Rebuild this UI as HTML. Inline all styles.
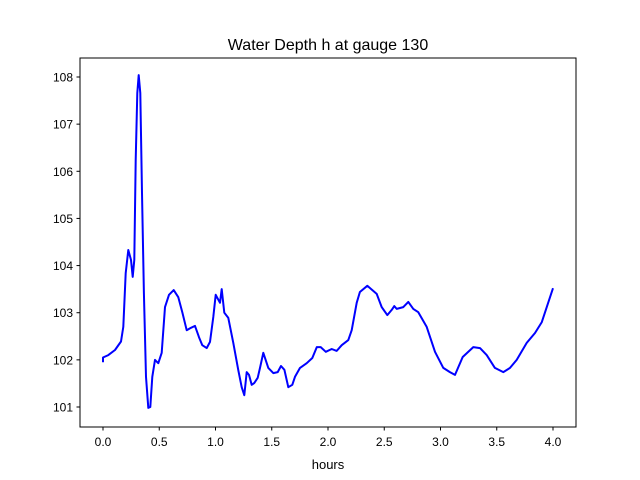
<!DOCTYPE html>
<html><head><meta charset="utf-8"><style>body{margin:0;background:#fff}svg{display:block;font-family:"Liberation Sans","DejaVu Sans",sans-serif}</style></head>
<body>
<svg id="chart" width="640" height="480">
<rect width="640" height="480" fill="#fff"/>
<text x="328" y="50" text-anchor="middle" font-size="16">Water Depth h at gauge 130</text>
<g id="xt"></g>
<g id="yt"></g>
<path id="line" fill="none" stroke="#0000ff" stroke-width="2" stroke-linejoin="round"/>
<rect x="80" y="58" width="496" height="369" fill="none" stroke="#000" stroke-width="1"/>
<text x="328" y="469" text-anchor="middle" font-size="13">hours</text>
</svg>
<script>
const hours=[0,0,0.047,0.107,0.16,0.18,0.202,0.225,0.249,0.264,0.278,0.291,0.305,0.317,0.332,0.347,0.364,0.382,0.403,0.42,0.438,0.462,0.492,0.522,0.551,0.587,0.628,0.669,0.705,0.744,0.782,0.818,0.853,0.883,0.922,0.951,0.98,1.002,1.04,1.055,1.078,1.114,1.158,1.203,1.233,1.256,1.277,1.298,1.322,1.345,1.375,1.396,1.425,1.469,1.514,1.553,1.582,1.612,1.647,1.683,1.707,1.751,1.811,1.86,1.9,1.935,1.98,2.033,2.077,2.122,2.18,2.211,2.255,2.284,2.349,2.433,2.477,2.527,2.566,2.589,2.611,2.669,2.714,2.758,2.803,2.877,2.951,3.025,3.084,3.129,3.197,3.292,3.351,3.411,3.484,3.558,3.618,3.677,3.766,3.84,3.9,4.0];
const depth=[101.95,102.05,102.10,102.21,102.39,102.70,103.84,104.33,104.12,103.76,104.12,106.24,107.66,108.04,107.66,105.54,103.42,101.64,100.98,101.0,101.64,102.0,101.93,102.15,103.12,103.38,103.48,103.33,103.01,102.63,102.68,102.72,102.48,102.31,102.25,102.38,102.91,103.38,103.21,103.50,103.0,102.89,102.36,101.78,101.42,101.25,101.74,101.68,101.47,101.51,101.62,101.83,102.15,101.83,101.72,101.74,101.87,101.79,101.42,101.47,101.64,101.83,101.93,102.04,102.27,102.27,102.17,102.23,102.19,102.31,102.42,102.63,103.21,103.44,103.57,103.40,103.12,102.95,103.06,103.14,103.08,103.12,103.23,103.08,103.01,102.70,102.17,101.83,101.74,101.68,102.06,102.27,102.25,102.10,101.83,101.74,101.83,102.0,102.36,102.57,102.80,103.52];
const xTicks=[0,0.5,1,1.5,2,2.5,3,3.5,4];
const xTickLabels=["0.0","0.5","1.0","1.5","2.0","2.5","3.0","3.5","4.0"];
const yTicks=[101,102,103,104,105,106,107,108];
const NS="http://www.w3.org/2000/svg";
const X=v=>103+v*112.5;
const Y=v=>77+(108-v)*47.143;
let d="";
hours.forEach((h,i)=>{d+=(i?"L":"M")+X(h).toFixed(1)+","+Y(depth[i]).toFixed(1);});
document.getElementById('line').setAttribute('d',d);
const xt=document.getElementById('xt'),yt=document.getElementById('yt');
xTicks.forEach((t,i)=>{
 const l=document.createElementNS(NS,'line');
 l.setAttribute('x1',X(t));l.setAttribute('x2',X(t));l.setAttribute('y1',427);l.setAttribute('y2',430.5);l.setAttribute('stroke','#000');
 
 
 xt.appendChild(l);
 const s=document.createElementNS(NS,'text');
 s.setAttribute('x',X(t));s.setAttribute('y',446);s.setAttribute('text-anchor','middle');s.setAttribute('font-size','12');
 s.textContent=xTickLabels[i];
 
 
 xt.appendChild(s);
});
yTicks.forEach(t=>{
 const l=document.createElementNS(NS,'line');
 l.setAttribute('x1',76.5);l.setAttribute('x2',80);l.setAttribute('y1',Y(t));l.setAttribute('y2',Y(t));l.setAttribute('stroke','#000');
 
 
 yt.appendChild(l);
 const s=document.createElementNS(NS,'text');
 s.setAttribute('x',73);s.setAttribute('y',Y(t)+4.5);s.setAttribute('text-anchor','end');s.setAttribute('font-size','12');
 s.textContent=t;
 
 
 yt.appendChild(s);
});
</script>
</body></html>
